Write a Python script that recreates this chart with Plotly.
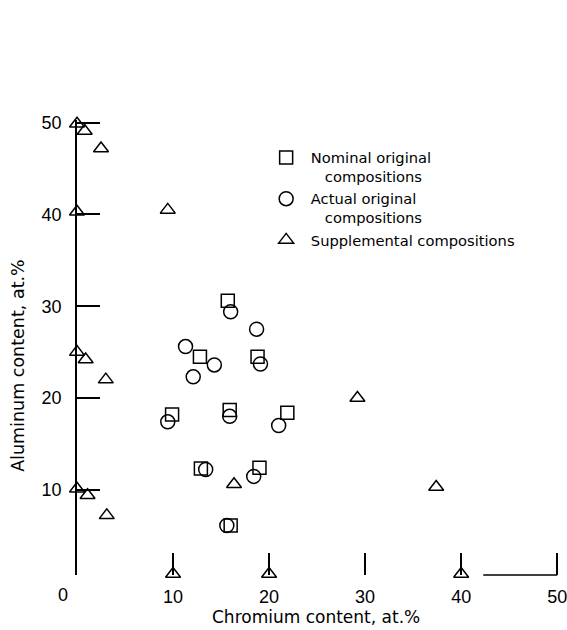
import plotly.graph_objects as go

# ---- data ----
nominal_cr = [15.7, 12.8, 18.8, 9.9, 15.9, 21.9, 12.9, 19.0, 16.0]
nominal_al = [30.6, 24.5, 24.5, 18.2, 18.7, 18.4, 12.3, 12.4, 6.1]

actual_cr = [16.0, 18.7, 11.3, 14.3, 19.1, 12.1, 9.45, 15.9, 21.0, 13.4, 18.4, 15.6]
actual_al = [29.4, 27.5, 25.6, 23.6, 23.7, 22.3, 17.4, 18.0, 17.0, 12.2, 11.45, 6.1]

supp_cr = [0.0, 0.8, 2.5, 0.0, 9.45, 0.0, 0.9, 3.0, 0.0, 1.1, 3.1, 16.35, 29.2, 37.4, 10.0, 20.0, 40.0]
supp_al = [49.9, 49.1, 47.2, 40.3, 40.5, 25.0, 24.2, 22.0, 10.1, 9.4, 7.2, 10.6, 20.0, 10.3, 0.8, 0.8, 0.8]

x_tickvals = [10, 20, 30, 40, 50]
x_ticktext = ["10", "20", "30", "40", "50"]
y_tickvals = [10, 20, 30, 40, 50]
y_ticktext = ["10", "20", "30", "40", "50"]

NB = "\u00a0"
legend_names = [
    NB + "Nominal original<br>" + NB * 4 + "compositions",
    NB + "Actual original<br>" + NB * 4 + "compositions",
    NB + "Supplemental compositions",
]

TEXT_FONT = "DejaVu Sans, sans-serif"
NUM_FONT = "Liberation Sans, Arial, sans-serif"

fig = go.Figure()
common = dict(mode="markers", cliponaxis=False)
fig.add_trace(go.Scatter(x=nominal_cr, y=nominal_al, name=legend_names[0],
                         marker=dict(symbol="square-open", size=13, color="black",
                                     line=dict(width=1.5, color="black")), **common))
fig.add_trace(go.Scatter(x=actual_cr, y=actual_al, name=legend_names[1],
                         marker=dict(symbol="circle-open", size=14, color="black",
                                     line=dict(width=1.5, color="black")), **common))
fig.add_trace(go.Scatter(x=supp_cr, y=supp_al, name=legend_names[2],
                         marker=dict(symbol="triangle-up-open", size=13, color="black",
                                     line=dict(width=1.5, color="black")), **common))

fig.update_layout(
    width=567, height=630,
    margin=dict(l=77, r=5, t=120, b=55, autoexpand=False),
    paper_bgcolor="white", plot_bgcolor="white",
    showlegend=True,
    legend=dict(x=0.39, y=0.953, xanchor="left", yanchor="top",
                bgcolor="rgba(0,0,0,0)", borderwidth=0, valign="top",
                font=dict(family=TEXT_FONT, size=14.7, color="black")),
    xaxis=dict(range=[0, 50.5], showgrid=False, zeroline=False, showline=False,
               tickvals=x_tickvals, ticktext=x_ticktext, ticks="inside", ticklen=22,
               tickwidth=1.5, tickcolor="black", ticklabelstandoff=9,
               ticklabeloverflow="allow",
               tickfont=dict(family=NUM_FONT, size=18, color="black")),
    yaxis=dict(range=[0.7, 50.3], showgrid=False, zeroline=False, showline=True,
               linecolor="black", linewidth=1.5,
               tickvals=y_tickvals, ticktext=y_ticktext, ticks="inside", ticklen=23,
               tickwidth=1.5, tickcolor="black", ticklabelstandoff=10,
               tickfont=dict(family=NUM_FONT, size=18, color="black")),
    shapes=[dict(type="line", xref="x", yref="y domain", x0=42.3, x1=50, y0=0, y1=0,
                 line=dict(color="black", width=1.5))],
    annotations=[
        dict(text="0", xref="paper", yref="paper", x=-0.029, y=0, yshift=-20, showarrow=False,
             xanchor="center", yanchor="middle",
             font=dict(family=NUM_FONT, size=18, color="black")),
        dict(text="Chromium content, at.%", xref="paper", yref="paper", x=0.493, y=-0.093,
             showarrow=False, xanchor="center", yanchor="middle",
             font=dict(family=TEXT_FONT, size=17, color="black")),
        dict(text="Aluminum content, at.%", xref="paper", yref="paper", x=-0.122, y=0.4615,
             showarrow=False, xanchor="center", yanchor="middle", textangle=-90,
             font=dict(family=TEXT_FONT, size=17.5, color="black")),
    ],
)

# remove the default 8px page margin so the 567x630 figure fills the window exactly
fig.write_html("out.html",
               config={"displayModeBar": False},
               post_script="document.body.style.margin='0';document.body.style.overflow='hidden';")
